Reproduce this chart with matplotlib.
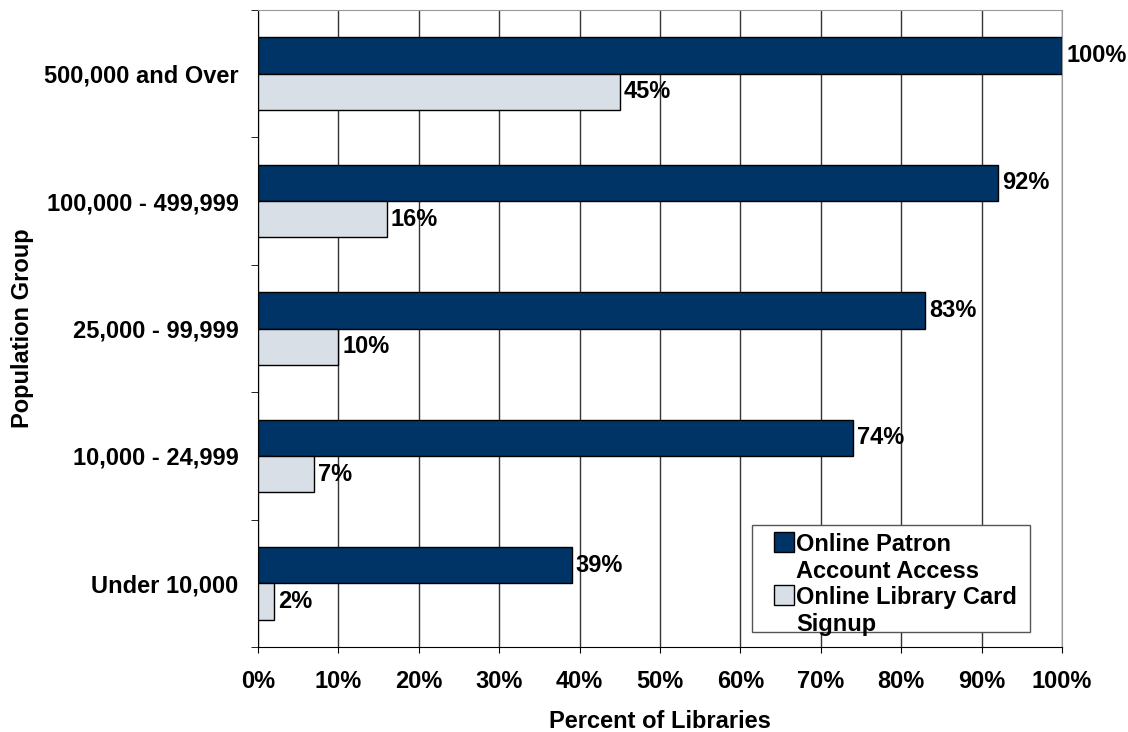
import matplotlib.pyplot as plt
from matplotlib.patches import Rectangle
import numpy as np

plt.rcParams['font.family'] = ['Liberation Sans', 'DejaVu Sans']
plt.rcParams['font.weight'] = 'bold'

groups = ['Under 10,000', '10,000 - 24,999', '25,000 - 99,999',
          '100,000 - 499,999', '500,000 and Over']
patron_access = [39, 74, 83, 92, 100]
card_signup = [2, 7, 10, 16, 45]
series_names = ['Online Patron\nAccount Access', 'Online Library Card\nSignup']

dark = '#003366'
light = '#d9dfe7'
fs = 17

fig = plt.figure(figsize=(11.28, 7.32), dpi=100)
ax = fig.add_axes([258 / 1128, 1 - 647 / 732, 804 / 1128, 637 / 732])

y = np.arange(len(groups))
h = 0.285
b1 = ax.barh(y + h / 2, patron_access, height=h, color=dark, edgecolor='black',
             linewidth=1, zorder=3)
b2 = ax.barh(y - h / 2, card_signup, height=h, color=light, edgecolor='black',
             linewidth=1, zorder=3)

# value labels just past the end of each bar
for bars, vals in ((b1, patron_access), (b2, card_signup)):
    for bar, v in zip(bars, vals):
        ax.text(v + 0.5, bar.get_y() + bar.get_height() / 2, f'{v}%',
                va='center', ha='left', fontsize=fs, fontweight='bold', zorder=4,
                clip_on=False)

ax.set_xlim(0, 100)
ax.set_ylim(-0.5, len(groups) - 0.5)
ax.set_xticks(np.arange(0, 101, 10))
ax.set_xticklabels([f'{t}%' for t in range(0, 101, 10)], fontsize=fs)
ax.set_yticks(y)
ax.set_yticklabels(groups, fontsize=fs)
ax.tick_params(axis='y', which='major', length=0, pad=14)
ax.set_yticks(np.arange(-0.5, len(groups), 1), minor=True)
ax.tick_params(axis='y', which='minor', length=5, direction='out', color='black')
ax.tick_params(axis='x', length=4.5, direction='out', pad=12)

ax.xaxis.grid(True, color='#333333', linewidth=1, zorder=0)
for side in ('top', 'right'):
    ax.spines[side].set_color('#999999')
for side in ('left', 'bottom'):
    ax.spines[side].set_color('black')

ax.set_xlabel('Percent of Libraries', fontsize=fs, fontweight='bold', labelpad=12)
ax.set_ylabel('Population Group', fontsize=fs, fontweight='bold', labelpad=7)

# legend box drawn by hand so each swatch sits beside the first label line
tr = ax.transAxes
ax.add_patch(Rectangle((0.6144, 0.0235), 0.3456, 0.168, transform=tr,
                       facecolor='white', edgecolor='#555555', linewidth=1,
                       zorder=5, clip_on=False))
sw_w, sw_h = 20 / 804, 20 / 637
for i, (name, bars) in enumerate(zip(series_names, (b1, b2))):
    first_line = 0.1648 - i * 0.0832
    ax.add_patch(Rectangle((0.6418, first_line - sw_h / 2), sw_w, sw_h,
                           transform=tr, facecolor=bars[0].get_facecolor(),
                           edgecolor='black', linewidth=1, zorder=6,
                           clip_on=False))
    ax.text(0.6692, first_line + 0.0145, name, transform=tr, ha='left', va='top',
            fontsize=fs, fontweight='bold', linespacing=1.22, zorder=6)

fig.savefig('out.png', dpi=100)
